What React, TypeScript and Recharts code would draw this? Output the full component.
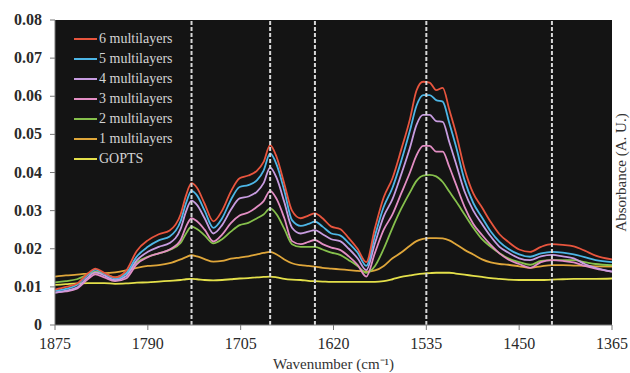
import React from 'react';
import { LineChart, Line, XAxis, YAxis, CartesianGrid, ReferenceLine } from 'recharts';

const wavenumbers = [1875,1865,1855,1845,1838,1830,1820,1810,1800,1790,1780,1770,1760,1755,1750,1745,1738,1730,1722,1714,1706,1698,1690,1684,1678,1672,1665,1658,1650,1643,1637,1630,1622,1614,1606,1598,1590,1582,1574,1566,1558,1550,1544,1538,1532,1526,1520,1514,1508,1500,1492,1484,1476,1468,1460,1450,1440,1430,1420,1410,1400,1390,1380,1365];

const ml6 = [0.0093,0.0100,0.0108,0.0135, 0.0148,0.0137,0.0125,0.0142,0.0195, 0.0222,0.0238,0.0248,0.0290,0.0340, 0.0372,0.0360,0.0318,0.0272,0.0300, 0.0350,0.0385,0.0392,0.0405,0.0428, 0.0472,0.0440,0.0370,0.0300,0.0280, 0.0287,0.0293,0.0280,0.0258,0.0252, 0.0228,0.0200,0.0165,0.0255,0.0335, 0.0385,0.0460,0.0540,0.0615,0.0638, 0.0636,0.0616,0.0622,0.0565,0.0505, 0.0410,0.0345,0.0308,0.0270,0.0238, 0.0218,0.0198,0.0192,0.0205,0.0212, 0.0210,0.0206,0.0195,0.0182,0.0172];
const ml5 = [0.0090,0.0095,0.0105,0.0132, 0.0145,0.0135,0.0122,0.0135,0.0180, 0.0205,0.0222,0.0232,0.0272,0.0320, 0.0352,0.0340,0.0300,0.0255,0.0280, 0.0328,0.0362,0.0367,0.0380,0.0405, 0.0450,0.0420,0.0352,0.0275,0.0260, 0.0265,0.0271,0.0258,0.0240,0.0235, 0.0215,0.0190,0.0155,0.0235,0.0310, 0.0360,0.0430,0.0510,0.0575,0.0603, 0.0603,0.0590,0.0586,0.0530,0.0470, 0.0380,0.0320,0.0282,0.0245,0.0218, 0.0200,0.0185,0.0179,0.0188,0.0192, 0.0190,0.0185,0.0178,0.0170,0.0165];
const ml4 = [0.0085,0.0090,0.0098,0.0125, 0.0138,0.0130,0.0118,0.0128,0.0170, 0.0192,0.0205,0.0215,0.0252,0.0298, 0.0326,0.0315,0.0280,0.0240,0.0262, 0.0302,0.0332,0.0337,0.0350,0.0372, 0.0413,0.0385,0.0322,0.0255,0.0240, 0.0245,0.0249,0.0238,0.0225,0.0220, 0.0200,0.0175,0.0144,0.0215,0.0285, 0.0330,0.0395,0.0465,0.0525,0.0551, 0.0551,0.0535,0.0533,0.0480,0.0425, 0.0350,0.0300,0.0265,0.0232,0.0205, 0.0190,0.0175,0.0170,0.0180,0.0184, 0.0180,0.0175,0.0160,0.0150,0.0140];
const ml3 = [0.0085,0.0088,0.0095,0.0120, 0.0133,0.0125,0.0115,0.0122,0.0160, 0.0178,0.0188,0.0198,0.0223,0.0258, 0.0280,0.0272,0.0250,0.0219,0.0237, 0.0267,0.0287,0.0295,0.0310,0.0325, 0.0352,0.0330,0.0280,0.0220,0.0212, 0.0218,0.0223,0.0212,0.0203,0.0197, 0.0180,0.0158,0.0127,0.0190,0.0250, 0.0290,0.0345,0.0400,0.0445,0.0470, 0.0470,0.0455,0.0455,0.0415,0.0370, 0.0310,0.0265,0.0236,0.0210,0.0188, 0.0172,0.0160,0.0150,0.0165,0.0170, 0.0168,0.0164,0.0155,0.0148,0.0140];
const ml2 = [0.0112,0.0115,0.0120,0.0132, 0.0140,0.0135,0.0125,0.0135,0.0165, 0.0179,0.0188,0.0197,0.0215,0.0240, 0.0258,0.0252,0.0235,0.0214,0.0225, 0.0245,0.0262,0.0268,0.0280,0.0290, 0.0306,0.0290,0.0252,0.0212,0.0205, 0.0205,0.0205,0.0198,0.0190,0.0184, 0.0170,0.0155,0.0137,0.0155,0.0200, 0.0255,0.0305,0.0348,0.0378,0.0392, 0.0394,0.0390,0.0375,0.0350,0.0325, 0.0290,0.0255,0.0225,0.0205,0.0188, 0.0175,0.0165,0.0158,0.0168,0.0170, 0.0170,0.0170,0.0165,0.0160,0.0157];
const ml1 = [0.0127,0.0130,0.0132,0.0135, 0.0137,0.0136,0.0138,0.0143,0.0150, 0.0155,0.0157,0.0162,0.0172,0.0178, 0.0183,0.0180,0.0173,0.0166,0.0168, 0.0174,0.0177,0.0180,0.0185,0.0189, 0.0192,0.0185,0.0172,0.0162,0.0157, 0.0155,0.0153,0.0150,0.0148,0.0146, 0.0144,0.0142,0.0140,0.0143,0.0155, 0.0175,0.0190,0.0208,0.0220,0.0226, 0.0228,0.0228,0.0227,0.0222,0.0212, 0.0197,0.0185,0.0172,0.0164,0.0160, 0.0158,0.0154,0.0150,0.0154,0.0157, 0.0157,0.0156,0.0155,0.0154,0.0153];
const gopts = [0.0105,0.0107,0.0109,0.0110, 0.0110,0.0110,0.0108,0.0109,0.0111, 0.0112,0.0114,0.0116,0.0118,0.0120, 0.0121,0.0120,0.0118,0.0117,0.0118, 0.0120,0.0122,0.0123,0.0125,0.0126, 0.0127,0.0125,0.0121,0.0119,0.0118, 0.0116,0.0115,0.0114,0.0113,0.0113, 0.0113,0.0113,0.0113,0.0113,0.0115, 0.0120,0.0126,0.0130,0.0133,0.0135, 0.0136,0.0137,0.0137,0.0137,0.0135, 0.0132,0.0129,0.0126,0.0123,0.0121, 0.0119,0.0118,0.0118,0.0118,0.0119, 0.0120,0.0121,0.0121,0.0121,0.0122];

const xTicks = [1875, 1790, 1705, 1620, 1535, 1450, 1365];
const yTicks = [0, 0.01, 0.02, 0.03, 0.04, 0.05, 0.06, 0.07, 0.08];
const markerLines = [1750, 1678, 1637, 1535, 1420];

const seriesNames = ['6 multilayers', '5 multilayers', '4 multilayers', '3 multilayers', '2 multilayers', '1 multilayers', 'GOPTS'];
const seriesValues = [ml6, ml5, ml4, ml3, ml2, ml1, gopts];
const seriesColors = ['#e8553e', '#4db6e6', '#c79ce0', '#e38ec4', '#86c04c', '#dfa63a', '#e4e04a'];

const data = wavenumbers.map((wn, i) => {
  const row: Record<string, number> = { wn };
  seriesValues.forEach((arr, k) => { row['s' + k] = arr[i]; });
  return row;
});

const FONT = "'Liberation Serif', serif";

const XTick = (props: any) => {
  const { x, y, payload } = props;
  return (
    <text x={x} y={y + 14} textAnchor="middle" style={{ fontFamily: FONT, fontSize: 16, fill: '#2a2a2a' }}>
      {payload.value}
    </text>
  );
};

const YTick = (props: any) => {
  const { x, y, payload } = props;
  const v = payload.value as number;
  return (
    <text x={x} y={y + 5} textAnchor="end" style={{ fontFamily: FONT, fontSize: 16, fontWeight: 'bold', fill: '#2a2a2a' }}>
      {v === 0 ? '0' : v.toFixed(2)}
    </text>
  );
};

export default function App() {
  const drawOrder = [6, 5, 4, 3, 2, 1, 0];
  return (
    <div style={{ position: 'absolute', left: 0, top: 0, width: 630, height: 373, background: '#fff', fontFamily: FONT }}>
      <LineChart width={630} height={373} data={data} margin={{ top: 20, right: 0, bottom: 0, left: 0 }}>
        <CartesianGrid fill="#141414" horizontal={false} vertical={false} stroke="none" />
        <XAxis
          dataKey="wn"
          type="number"
          domain={[1365, 1875]}
          reversed
          ticks={xTicks}
          interval={0}
          height={48}
          tickSize={5}
          tickMargin={5}
          stroke="#777"
          tick={<XTick />}
          label={{ value: 'Wavenumber (cm⁻¹)', position: 'insideBottom', offset: 4, fill: '#333', fontSize: 15, style: { fontFamily: FONT } }}
        />
        <YAxis
          domain={[0, 0.08]}
          ticks={yTicks}
          interval={0}
          width={55}
          tickSize={5}
          tickMargin={8}
          stroke="#777"
          tick={<YTick />}
        />
        <YAxis
          yAxisId="right"
          orientation="right"
          domain={[0, 0.08]}
          width={18}
          tick={false}
          tickLine={false}
          axisLine={false}
          label={{ value: 'Absorbance (A. U.)', angle: -90, position: 'center', fill: '#333', fontSize: 15, style: { fontFamily: FONT } }}
        />
        {drawOrder.map((k) => (
          <Line
            key={k}
            type="monotone"
            dataKey={'s' + k}
            name={seriesNames[k]}
            stroke={seriesColors[k]}
            strokeWidth={1.8}
            dot={false}
            isAnimationActive={false}
          />
        ))}
        {markerLines.map((x) => (
          <ReferenceLine key={x} x={x} stroke="#d8d8d8" strokeWidth={2} strokeDasharray="4 2" />
        ))}
      </LineChart>
      <div style={{ position: 'absolute', left: 74, top: 29, pointerEvents: 'none' }}>
        {seriesNames.map((name, k) => (
          <div key={name} style={{ display: 'flex', alignItems: 'center', height: 20 }}>
            <div style={{ width: 23, height: 2, background: seriesColors[k] }} />
            <span style={{ marginLeft: 2, color: '#d4d4d4', fontSize: 14, fontFamily: FONT, lineHeight: '20px' }}>{name}</span>
          </div>
        ))}
      </div>
    </div>
  );
}
